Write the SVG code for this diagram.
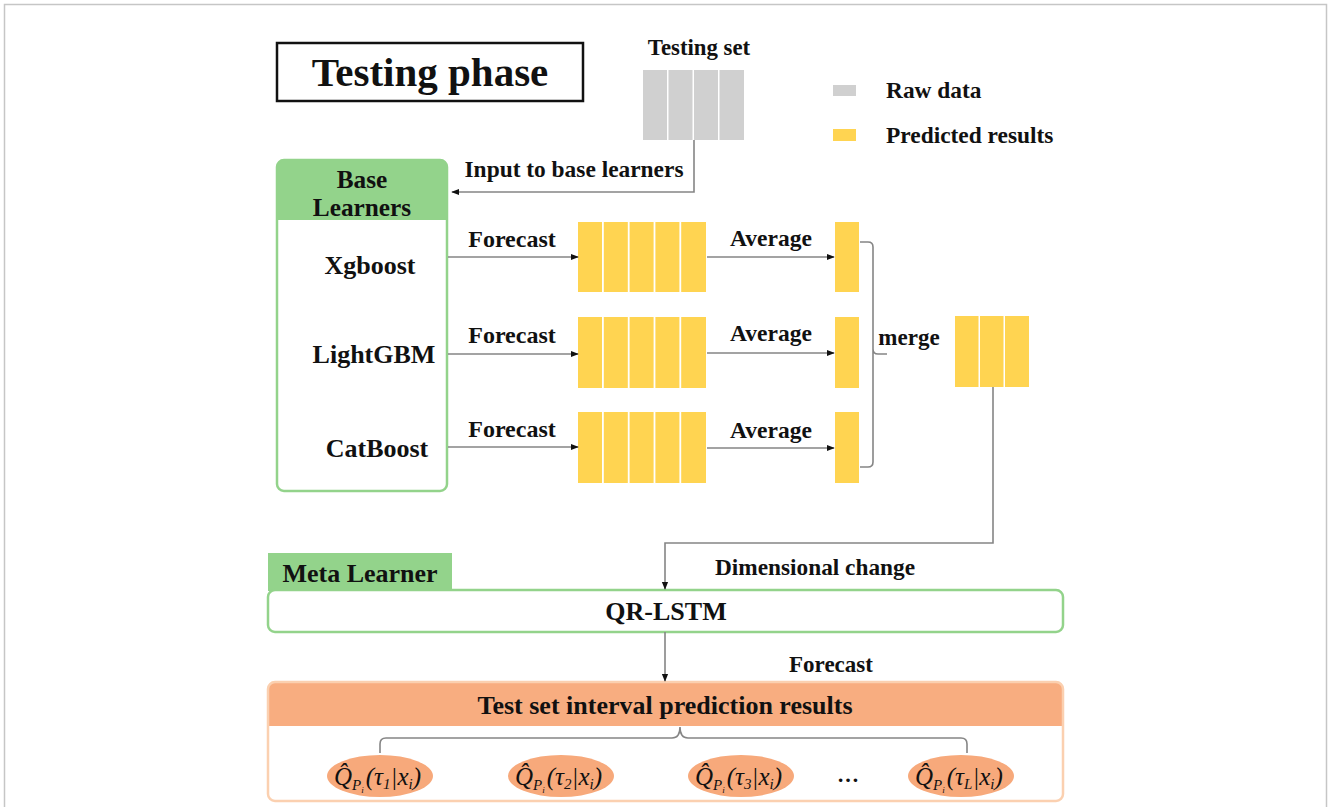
<svg xmlns="http://www.w3.org/2000/svg" width="1328" height="807" viewBox="0 0 1328 807">
<style>
.t{font-family:"Liberation Serif","Times New Roman",serif;font-weight:bold;fill:#111}
.c{text-anchor:middle}
.gr{fill:#d0d0d0}
.ye{fill:#ffd451}
.ln{fill:none;stroke:#858585;stroke-width:1.6}
.f{font-family:"Liberation Serif","Times New Roman",serif;font-style:italic;fill:#111;font-size:25px}
.s{font-size:15px}
.ss{font-size:9px}
</style>
<defs>
<marker id="ar" viewBox="0 0 10 10" refX="9" refY="5" markerWidth="5" markerHeight="5" orient="auto" markerUnits="strokeWidth">
<path d="M0,1 L10,5 L0,9 z" fill="#111"/>
</marker>
</defs>
<rect width="1328" height="807" fill="#fff"/>
<rect x="4.5" y="4.5" width="1322" height="840" fill="none" stroke="#c6c6c6" stroke-width="1.5"/>

<g id="title">
<rect x="277" y="43" width="306" height="58" fill="#fff" stroke="#111" stroke-width="2.5"/>
<text x="430" y="86" class="t c" font-size="41">Testing phase</text>
</g>

<g id="testing-set">
<text x="699" y="55" class="t c" font-size="22.8">Testing set</text>
<rect x="643" y="70" width="24" height="70" class="gr"/>
<rect x="668.5" y="70" width="24" height="70" class="gr"/>
<rect x="694" y="70" width="24" height="70" class="gr"/>
<rect x="719.5" y="70" width="24.5" height="70" class="gr"/>
</g>

<g id="legend">
<rect x="833" y="85" width="23" height="11" class="gr"/>
<text x="886" y="98" class="t" font-size="23.4">Raw data</text>
<rect x="833" y="129" width="23" height="12" class="ye"/>
<text x="886" y="143" class="t" font-size="23.4">Predicted results</text>
</g>

<g id="base-learners">
<path d="M285,160 H439 Q447,160 447,168 V220 H277 V168 Q277,160 285,160 Z" fill="#93d38b"/>
<rect x="277" y="160" width="170" height="331" rx="7" fill="none" stroke="#93d38b" stroke-width="2.5"/>
<text x="362" y="188" class="t c" font-size="25.3">Base</text>
<text x="362" y="216" class="t c" font-size="25.3">Learners</text>
<text x="370" y="274" class="t c" font-size="26">Xgboost</text>
<text x="374" y="363" class="t c" font-size="26">LightGBM</text>
<text x="377" y="457" class="t c" font-size="26">CatBoost</text>
</g>

<g id="forecast-blocks">
<g transform="translate(578,222)">
<rect x="0" y="0" width="24" height="70" class="ye"/><rect x="25.8" y="0" width="24" height="70" class="ye"/><rect x="51.6" y="0" width="24" height="70" class="ye"/><rect x="77.4" y="0" width="24" height="70" class="ye"/><rect x="103.2" y="0" width="24.8" height="70" class="ye"/>
</g>
<g transform="translate(578,317)">
<rect x="0" y="0" width="24" height="71" class="ye"/><rect x="25.8" y="0" width="24" height="71" class="ye"/><rect x="51.6" y="0" width="24" height="71" class="ye"/><rect x="77.4" y="0" width="24" height="71" class="ye"/><rect x="103.2" y="0" width="24.8" height="71" class="ye"/>
</g>
<g transform="translate(578,412)">
<rect x="0" y="0" width="24" height="71" class="ye"/><rect x="25.8" y="0" width="24" height="71" class="ye"/><rect x="51.6" y="0" width="24" height="71" class="ye"/><rect x="77.4" y="0" width="24" height="71" class="ye"/><rect x="103.2" y="0" width="24.8" height="71" class="ye"/>
</g>
</g>

<g id="average-blocks">
<rect x="835" y="222" width="24" height="70" class="ye"/>
<rect x="835" y="317" width="24" height="71" class="ye"/>
<rect x="835" y="412" width="24" height="71" class="ye"/>
</g>

<g id="merged-block">
<rect x="955" y="316" width="23.5" height="71" class="ye"/>
<rect x="980" y="316" width="23.5" height="71" class="ye"/>
<rect x="1005" y="316" width="24" height="71" class="ye"/>
</g>

<g id="meta-learner">
<rect x="268" y="553" width="184" height="38" fill="#93d38b"/>
<text x="360" y="582" class="t c" font-size="26">Meta Learner</text>
<rect x="268" y="590" width="795" height="42" rx="7" fill="#fff" stroke="#93d38b" stroke-width="2.5"/>
<text x="666" y="620" class="t c" font-size="26">QR-LSTM</text>
</g>

<g id="results">
<path d="M276,682 H1055 Q1063,682 1063,690 V726 H268 V690 Q268,682 276,682 Z" fill="#f8ad80"/>
<rect x="268" y="682" width="795" height="119" rx="7" fill="none" stroke="#fbd0b0" stroke-width="2.5"/>
<text x="665" y="714" class="t c" font-size="26">Test set interval prediction results</text>
</g>

<g id="q1">
<ellipse cx="380" cy="776" rx="53" ry="21" fill="#f7a97b"/>
<text x="334" y="785" class="f">Q&#x302;<tspan class="s" dy="5">P</tspan><tspan class="ss" dy="3">i</tspan><tspan dy="-8" dx="2">(τ</tspan><tspan class="s" dy="4">1</tspan><tspan dy="-4">|x</tspan><tspan class="s" dy="4">i</tspan><tspan dy="-4">)</tspan></text>
</g>
<g id="q2">
<ellipse cx="561" cy="776" rx="53" ry="21" fill="#f7a97b"/>
<text x="515" y="785" class="f">Q&#x302;<tspan class="s" dy="5">P</tspan><tspan class="ss" dy="3">i</tspan><tspan dy="-8" dx="2">(τ</tspan><tspan class="s" dy="4">2</tspan><tspan dy="-4">|x</tspan><tspan class="s" dy="4">i</tspan><tspan dy="-4">)</tspan></text>
</g>
<g id="q3">
<ellipse cx="741" cy="776" rx="53" ry="21" fill="#f7a97b"/>
<text x="695" y="785" class="f">Q&#x302;<tspan class="s" dy="5">P</tspan><tspan class="ss" dy="3">i</tspan><tspan dy="-8" dx="2">(τ</tspan><tspan class="s" dy="4">3</tspan><tspan dy="-4">|x</tspan><tspan class="s" dy="4">i</tspan><tspan dy="-4">)</tspan></text>
</g>
<g id="dots">
<text x="848" y="782" class="t c" font-size="22">…</text>
</g>
<g id="qL">
<ellipse cx="961" cy="776" rx="53" ry="21" fill="#f7a97b"/>
<text x="915" y="785" class="f">Q&#x302;<tspan class="s" dy="5">P</tspan><tspan class="ss" dy="3">i</tspan><tspan dy="-8" dx="2">(τ</tspan><tspan class="s" dy="4">L</tspan><tspan dy="-4">|x</tspan><tspan class="s" dy="4">i</tspan><tspan dy="-4">)</tspan></text>
</g>

<g id="connectors">
<path d="M694,140 V192 H452" class="ln" marker-end="url(#ar)"/>
<text x="574" y="177" class="t c" font-size="23.4">Input to base learners</text>
<path d="M448,257 H578" class="ln" marker-end="url(#ar)"/>
<path d="M448,354 H578" class="ln" marker-end="url(#ar)"/>
<path d="M448,447 H578" class="ln" marker-end="url(#ar)"/>
<text x="512" y="247" class="t c" font-size="24">Forecast</text>
<text x="512" y="343" class="t c" font-size="24">Forecast</text>
<text x="512" y="437" class="t c" font-size="24">Forecast</text>
<path d="M707,257 H834" class="ln" marker-end="url(#ar)"/>
<path d="M707,353 H834" class="ln" marker-end="url(#ar)"/>
<path d="M707,448 H834" class="ln" marker-end="url(#ar)"/>
<text x="771" y="246" class="t c" font-size="23.5">Average</text>
<text x="771" y="341" class="t c" font-size="23.5">Average</text>
<text x="771" y="438" class="t c" font-size="23.5">Average</text>
<path d="M860,242 H868 Q873,242 873,247 V349 Q873,354 878,354 H887 M873,349 Q873,354 873,359 V462 Q873,467 868,467 H860" class="ln"/>
<text x="909" y="345" class="t c" font-size="23">merge</text>
<path d="M993,387 V543 H665 V589" class="ln" marker-end="url(#ar)"/>
<text x="815" y="575" class="t c" font-size="23.3">Dimensional change</text>
<path d="M665,632 V681" class="ln" marker-end="url(#ar)"/>
<text x="831" y="672" class="t c" font-size="23">Forecast</text>
<path d="M380,753 V744 Q380,738 386,738 H672 Q680,738 680,727 Q680,738 688,738 H961 Q967,738 967,744 V753" class="ln"/>
</g>
</svg>
